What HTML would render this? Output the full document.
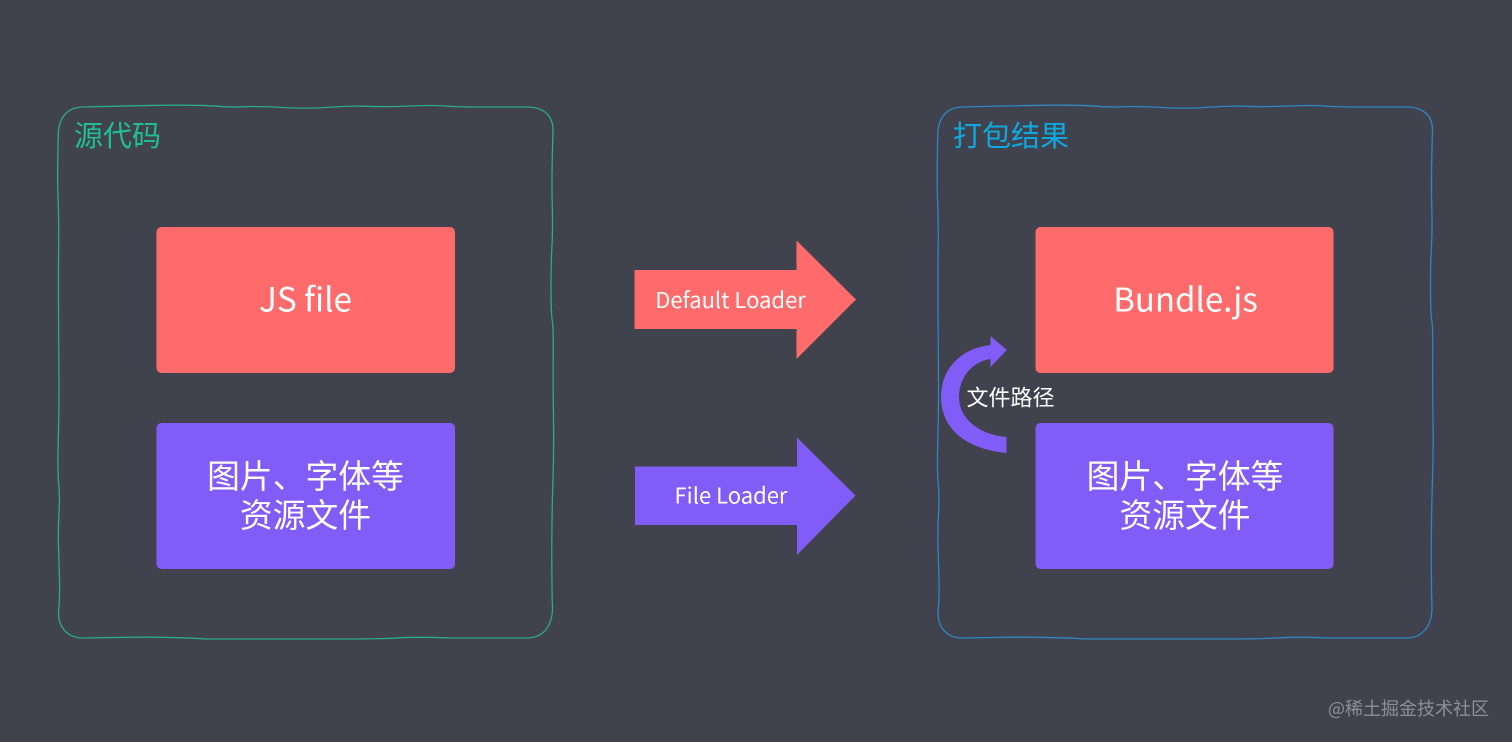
<!DOCTYPE html>
<html lang="zh">
<head>
<meta charset="utf-8">
<title>Loader diagram</title>
<style>
html,body{margin:0;padding:0;background:#40434d;}
svg{display:block;}
text{font-family:"Noto Sans CJK SC","Liberation Sans",sans-serif;}
</style>
</head>
<body>
<svg width="1512" height="742" viewBox="0 0 1512 742" xmlns="http://www.w3.org/2000/svg">
<rect width="1512" height="742" fill="#40434d"/>

<!-- Left sketch box -->
<path d="M83 107 Q140 105.500 171.500 105.200 Q203 105 216.500 106.200 Q230 107.500 243.500 106.800 Q257 106 282 107.500 Q307 109 327 107.400 Q347 105.700 367 106.300 Q387 107 410 106 Q433 105 445 106 Q457 107 480 107 L527 107 C543 107 553 115 553 130 Q551.500 178 552.200 203 Q553 228 552 245 Q551 262 551 287 Q551 312 552.200 320 Q553.500 328 553.200 356 Q553 385 553.500 419 Q554 453 552.800 486 Q551.700 520 551.800 560 Q552 600 552.500 606 C553 626 543 638 527 638 L450 638 Q417 636.700 400 637.800 Q383 639 346 639 L207 639 Q170 636.700 126 637.300 Q100 637.800 83 638 C68 638 58.500 628 58.500 613 Q60 597 59.500 580 Q59 563 58.500 546 Q58 530 59 513 Q60 497 58.800 485 Q57.500 473 58.200 443 Q59 413 59 396 L59 380 Q58.300 290 58.600 256 Q59 223 58.200 203 Q57.300 183 57.800 158 L58.300 133 C59 117 68 107 83 107 Z" fill="none" stroke="#2ba98d" stroke-width="1.300"/>

<!-- Right sketch box -->
<path transform="translate(879.500 0)" d="M83 107 Q140 105.500 171.500 105.200 Q203 105 216.500 106.200 Q230 107.500 243.500 106.800 Q257 106 282 107.500 Q307 109 327 107.400 Q347 105.700 367 106.300 Q387 107 410 106 Q433 105 445 106 Q457 107 480 107 L527 107 C543 107 553 115 553 130 Q551.500 178 552.200 203 Q553 228 552 245 Q551 262 551 287 Q551 312 552.200 320 Q553.500 328 553.200 356 Q553 385 553.500 419 Q554 453 552.800 486 Q551.700 520 551.800 560 Q552 600 552.500 606 C553 626 543 638 527 638 L450 638 Q417 636.700 400 637.800 Q383 639 346 639 L207 639 Q170 636.700 126 637.300 Q100 637.800 83 638 C68 638 58.500 628 58.500 613 Q60 597 59.500 580 Q59 563 58.500 546 Q58 530 59 513 Q60 497 58.800 485 Q57.500 473 58.200 443 Q59 413 59 396 L59 380 Q58.300 290 58.600 256 Q59 223 58.200 203 Q57.300 183 57.800 158 L58.300 133 C59 117 68 107 83 107 Z" fill="none" stroke="#2f86c4" stroke-width="1.300"/>

<text x="74" y="146" font-size="29" fill="#20bd96">源代码</text>
<text x="953" y="146" font-size="29" fill="#10a8e0">打包结果</text>

<!-- Left nodes -->
<rect x="156.500" y="227" width="298.500" height="146" rx="5" fill="#ff6a6a"/>
<text x="305.500" y="311.500" font-size="33.300" fill="#fff" text-anchor="middle">JS file</text>
<rect x="156.500" y="423" width="298.500" height="146" rx="5" fill="#815cf6"/>
<text x="305.500" y="488" font-size="32.800" fill="#fff" text-anchor="middle">图片、字体等</text>
<text x="305.500" y="527" font-size="32.800" fill="#fff" text-anchor="middle">资源文件</text>

<!-- Right nodes -->
<rect x="1035.500" y="227" width="298" height="146" rx="5" fill="#ff6a6a"/>
<text x="1185.500" y="311.500" font-size="33" fill="#fff" text-anchor="middle">Bundle.js</text>
<rect x="1035.500" y="423" width="298" height="146" rx="5" fill="#815cf6"/>
<text x="1185" y="488" font-size="32.800" fill="#fff" text-anchor="middle">图片、字体等</text>
<text x="1185" y="527" font-size="32.800" fill="#fff" text-anchor="middle">资源文件</text>

<!-- Middle arrows -->
<polygon points="634.500,270 796.500,270 796.500,240.500 856,299.500 796.500,359 796.500,329 634.500,329" fill="#ff6a6a"/>
<text x="730.500" y="308" font-size="22" fill="#fff" text-anchor="middle">Default Loader</text>
<polygon points="635,466.500 797,466.500 797,437.500 855.500,495.500 797,555 797,525 635,525" fill="#815cf6"/>
<text x="731" y="503.500" font-size="22" fill="#fff" text-anchor="middle">File Loader</text>

<!-- Curved arrow -->
<path d="M1006.500 453 C965 449 941 428 941 397 C941 368 962 348 990.500 345 L990.500 336 L1006.800 350 L990.500 367 L990.500 359 C975 361 959 375 959 397 C959 416 975 434 1006.500 437 Z" fill="#815cf6"/>
<text x="1010.500" y="405.500" font-size="22" fill="#fff" text-anchor="middle">文件路径</text>

<!-- Watermark -->
<text x="1328" y="715" font-size="18" fill="#8d8f96">@稀土掘金技术社区</text>
</svg>
</body>
</html>
